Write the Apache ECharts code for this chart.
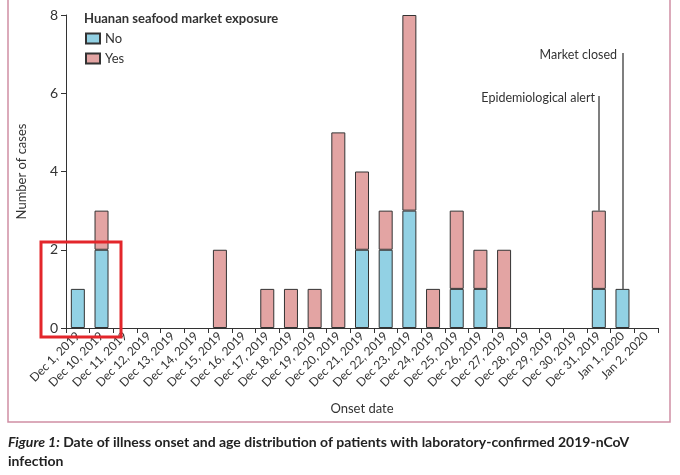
<!DOCTYPE html>
<html><head><meta charset="utf-8">
<script src="https://cdn.jsdelivr.net/npm/echarts@6/dist/echarts.min.js"></script>
<style>html,body{margin:0;padding:0;background:#fff}#c{width:680px;height:475px}</style>
</head><body><div id="c"></div>
<script>
const categories = ['Dec 1, 2019','Dec 10, 2019','Dec 11, 2019','Dec 12, 2019','Dec 13, 2019','Dec 14, 2019','Dec 15, 2019','Dec 16, 2019','Dec 17, 2019','Dec 18, 2019','Dec 19, 2019','Dec 20, 2019','Dec 21, 2019','Dec 22, 2019','Dec 23, 2019','Dec 24, 2019','Dec 25, 2019','Dec 26, 2019','Dec 27, 2019','Dec 28, 2019','Dec 29, 2019','Dec 30, 2019','Dec 31, 2019','Jan 1, 2020','Jan 2, 2020'];
const noExposure  = [1,2,0,0,0,0,0,0,0,0,0,0,2,2,3,0,1,1,0,0,0,0,1,1,0];
const yesExposure = [0,1,0,0,0,0,2,0,1,1,1,5,2,1,5,1,2,1,2,0,0,0,2,0,0];
const yTicks = [0,2,4,6,8];
const annotations = [
  {date:'Dec 31, 2019', from:3, to:5.93, text:'Epidemiological alert'},
  {date:'Jan 1, 2020', from:1, to:7.03, text:'Market closed'}
];
const font = 'Lato, "Open Sans", sans-serif';
const txt = '#333';
const asBars = arr => arr.map(v => v === 0 ? {value:0, itemStyle:{borderWidth:0}} : v);
const chart = echarts.init(document.getElementById('c'));
chart.setOption({
  animation:false,
  textStyle:{fontFamily:font},
  grid:{left:66,right:22,top:15,bottom:147,containLabel:false},
  title:{text:'Huanan seafood market exposure',left:79,top:7,textStyle:{fontSize:13,fontWeight:'bold',color:'#333',fontFamily:font}},
  legend:{orient:'vertical',left:80,top:27,icon:'rect',itemWidth:14,itemHeight:10,itemGap:7,
    textStyle:{fontSize:13,color:'#333',fontFamily:font},data:['No','Yes']},
  xAxis:{type:'category',data:categories,boundaryGap:true,
    name:'Onset date',nameLocation:'middle',nameGap:74,nameTextStyle:{fontSize:13,color:txt},
    axisLine:{lineStyle:{color:'#333',width:1}},
    axisTick:{show:true,alignWithLabel:false,length:5,lineStyle:{color:'#333'}},
    axisLabel:{rotate:45,interval:0,fontSize:12,color:txt,margin:6}},
  yAxis:{type:'value',min:0,max:8,interval:2,
    name:'Number of cases',nameLocation:'middle',nameGap:38,nameTextStyle:{fontSize:13,color:txt},
    splitLine:{show:false},
    axisLine:{show:true,lineStyle:{color:'#333',width:1}},
    axisTick:{show:true,length:5,lineStyle:{color:'#333'}},
    axisLabel:{fontSize:14,color:txt,margin:8,formatter:v=>yTicks.includes(v)?String(v):''}},
  series:[
    {name:'No',type:'bar',stack:'a',data:asBars(noExposure),barWidth:14,
     itemStyle:{color:'#92d1e4',borderColor:'#333',borderWidth:1}},
    {name:'Yes',type:'bar',stack:'a',data:asBars(yesExposure),barWidth:14,
     itemStyle:{color:'#e3a4a3',borderColor:'#333',borderWidth:1},
     markLine:{symbol:'none',silent:true,animation:false,
       lineStyle:{color:'#555',type:'solid',width:1.5},
       label:{show:false},
       data:annotations.map(a=>[{coord:[a.date,a.to]},{coord:[a.date,a.from]}])}}
  ],
  graphic:[
    {type:'text',right:680-595,top:91,style:{text:annotations[0].text,fontSize:12.5,fill:'#333',fontFamily:font}},
    {type:'text',right:680-617,top:48,style:{text:annotations[1].text,fontSize:12.5,fill:'#333',fontFamily:font}},
    {type:'rect',shape:{x:8,y:-5,width:662,height:427},style:{fill:'none',stroke:'#cf8ea4',lineWidth:1.5},silent:true},
    {type:'rect',shape:{x:41,y:242,width:80,height:95},style:{fill:'none',stroke:'#e3262b',lineWidth:3},silent:true,z:100},
    {type:'text',left:8,top:435,style:{rich:{i:{fontStyle:'italic',fontWeight:'bold',fontSize:14,fill:'#222',fontFamily:font},n:{fontWeight:'bold',fontSize:14,fill:'#222',fontFamily:font}},
      text:'{i|Figure 1:} {n|Date of illness onset and age distribution of patients with laboratory-confirmed 2019-nCoV}'}},
    {type:'text',left:8,top:454,style:{text:'infection',fontWeight:'bold',fontSize:14,fill:'#222',fontFamily:font}}
  ]
});
</script></body></html>
